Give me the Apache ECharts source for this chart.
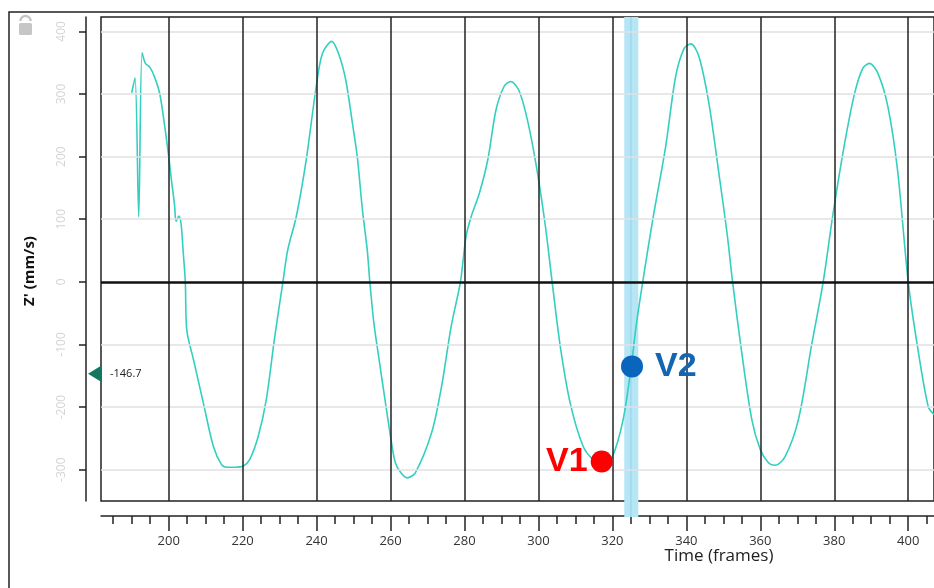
<!DOCTYPE html>
<html><head><meta charset="utf-8">
<script src="https://cdn.jsdelivr.net/npm/echarts@6/dist/echarts.min.js"></script>
<style>html,body{margin:0;padding:0;background:#fff}#c{width:934px;height:588px}</style>
</head><body><div id="c"></div>
<script>
const frames = [190.0,190.9,191.9,192.8,193.7,194.9,196.2,197.6,198.9,199.8,200.7,201.6,202.0,202.8,203.4,203.9,204.5,204.9,206.7,209.4,212.1,214.3,215.7,218.0,220.2,221.9,224.2,226.4,228.7,230.9,232.2,234.5,237.2,239.9,241.6,244.1,246.1,247.9,249.7,251.0,252.4,253.7,254.4,255.5,256.9,258.5,260.0,261.3,262.8,264.5,266.7,271.1,273.8,276.4,278.9,280.4,281.8,284.0,286.3,288.5,290.7,292.5,294.7,297.0,299.6,301.9,303.7,305.9,308.6,312.1,314.8,317.5,320.0,322.9,325.1,326.4,328.2,330.9,334.4,337.1,339.4,341.2,343.4,346.1,348.8,351.0,352.5,355.0,357.7,360.0,362.2,364.0,366.7,370.3,373.9,377.0,379.7,382.8,385.5,387.7,389.5,391.8,394.5,397.1,400.0,402.5,405.4,407.0];
const zVel = [302,326,104,366,349,343,327,300,250,210,165,122,97,105,90,50,0,-77,-124,-194,-263,-292,-296,-296,-294,-284,-247,-188,-87,0,51,104,195,312,365,384,362,322,253,200,115,51,0,-66,-124,-188,-247,-289,-305,-313,-305,-241,-167,-71,0,72,104,141,195,274,312,320,306,259,179,88,0,-103,-194,-263,-284,-292,-279,-220,-135,-71,0,99,216,328,373,380,360,285,173,78,0,-114,-220,-268,-289,-293,-279,-220,-100,0,110,221,301,341,349,333,280,179,0,-103,-199,-212];
const xMajorTicks = [200,220,240,260,280,300,320,340,360,380,400];
const xMinorTicks = [185,190,195,205,210,215,225,230,235,245,250,255,265,270,275,285,290,295,305,310,315,325,330,335,345,350,355,365,370,375,385,390,395,405];
const yTicks = [-300,-200,-100,0,100,200,300,400];
const v1Point = [317.1, -287];
const v2Point = [325.3, -135];
const cursorValue = -146.7;
const bandRange = [323.2, 327.0];
const bandCenter = 325;
const xName = 'Time (frames)';
const yName = "Z' (mm/s)";

const X_MIN = 181.7, X_MAX = 406.97, Y_MIN = -350, Y_MAX = 423;
const chart = echarts.init(document.getElementById('c'), null, {renderer: 'canvas'});
const gridBox = {left: 101, top: 17, width: 838, height: 484};
const font = 'Open Sans';

const option = {
  animation: false,
  backgroundColor: '#fff',
  grid: [
    Object.assign({show: true, borderColor: '#222', borderWidth: 1.5, backgroundColor: 'transparent'}, gridBox),
    Object.assign({show: false}, gridBox)
  ],
  xAxis: [
    {type: 'value', gridIndex: 0, min: X_MIN, max: X_MAX, position: 'bottom', offset: 15,
     axisLine: {show: true, onZero: false, lineStyle: {color: '#222', width: 1.5}},
     axisTick: {show: true, customValues: xMajorTicks, length: 15, lineStyle: {color: '#222', width: 1.5}},
     axisLabel: {show: true, customValues: xMajorTicks, margin: 19, color: '#333', fontSize: 13, fontFamily: font},
     splitLine: {show: false}},
    {type: 'value', gridIndex: 1, min: X_MIN, max: X_MAX, position: 'bottom', offset: 15,
     axisLine: {show: false, onZero: false},
     axisTick: {show: true, customValues: xMinorTicks, length: 8, lineStyle: {color: '#222', width: 1.5}},
     axisLabel: {show: false}, splitLine: {show: false}}
  ],
  yAxis: [
    {type: 'value', gridIndex: 0, min: Y_MIN, max: Y_MAX, position: 'left', offset: 15,
     axisLine: {show: true, onZero: false, lineStyle: {color: '#222', width: 1.5}},
     axisTick: {show: true, customValues: yTicks, length: 7, lineStyle: {color: '#222', width: 1.5}},
     axisLabel: {show: true, customValues: yTicks, rotate: 90, margin: 18, color: '#d4d4d4', fontSize: 12, fontFamily: font},
     splitLine: {show: false}},
    {type: 'value', gridIndex: 1, min: Y_MIN, max: Y_MAX, show: false}
  ],
  series: [
    {type: 'line', name: 'gridlines', xAxisIndex: 0, yAxisIndex: 0, data: [], z: 1, silent: true,
     markLine: {symbol: ['none', 'none'], silent: true, animation: false, label: {show: false},
       data: [].concat(
         yTicks.filter(v => v !== 0).map(v => ({yAxis: v, lineStyle: {color: '#e0e0e0', width: 1.5, type: 'solid'}})),
         xMajorTicks.map(v => ({xAxis: v, lineStyle: {color: '#222', width: 1.5, type: 'solid'}})),
         [{yAxis: 0, lineStyle: {color: '#111', width: 2.5, type: 'solid'}}]
       )}},
    {type: 'line', name: "Z'", xAxisIndex: 0, yAxisIndex: 0, z: 3,
     data: frames.map((f, i) => [f, zVel[i]]), showSymbol: false, symbol: 'none', smooth: 0.3,
     lineStyle: {color: '#33cfc0', width: 1.6}},
    {type: 'scatter', name: 'V1', z: 10, data: [v1Point], symbolSize: 22, itemStyle: {color: '#ff0000', opacity: 1},
     label: {show: true, formatter: 'V1', position: 'left', distance: 3, color: '#ff0000', fontSize: 34, fontWeight: 'bold', fontFamily: 'Liberation Sans'}},
    {type: 'scatter', name: 'V2', z: 10, data: [v2Point], symbolSize: 22, itemStyle: {color: '#0a66bd', opacity: 1},
     label: {show: true, formatter: 'V2', position: 'right', distance: 12, color: '#1466b3', fontSize: 34, fontWeight: 'bold', fontFamily: 'Liberation Sans'}}
  ]
};
chart.setOption(option);

const px = v => chart.convertToPixel({xAxisIndex: 0}, v);
const py = v => chart.convertToPixel({yAxisIndex: 0}, v);
const bx0 = px(bandRange[0]), bx1 = px(bandRange[1]), bc = px(bandCenter);
const gTop = py(Y_MAX), gBot = py(Y_MIN), gLeft = px(X_MIN);
const cy = py(cursorValue);

chart.setOption({
  graphic: [
    {type: 'rect', z: 0, shape: {x: 9, y: 12, width: 1000, height: 1000}, style: {fill: null, stroke: '#222', lineWidth: 1.5}},
    {type: 'rect', z: 0, shape: {x: 19, y: 23, width: 13, height: 12, r: 1.5}, style: {fill: '#c6c6c6'}},
    {type: 'arc', z: 0, shape: {cx: 25.5, cy: 21, r: 5, startAngle: Math.PI, endAngle: 2 * Math.PI}, style: {stroke: '#c6c6c6', lineWidth: 2.5, fill: null}},
    {type: 'rect', z: 2, shape: {x: bx0, y: gTop, width: bx1 - bx0, height: gBot - gTop + 16}, style: {fill: '#b6e5f5'}},
    {type: 'line', z: 2, shape: {x1: bc, y1: gTop, x2: bc, y2: gBot + 16}, style: {stroke: '#98d4ea', lineWidth: 1.2}},
    {type: 'polygon', z: 5, shape: {points: [[gLeft - 13, cy], [gLeft, cy - 8], [gLeft, cy + 8]]}, style: {fill: '#11775f'}},
    {type: 'text', z: 5, x: gLeft + 9, y: cy, style: {text: cursorValue.toFixed(1), fill: '#222', font: '11px "Open Sans"', verticalAlign: 'middle', align: 'left'}},
    {type: 'text', z: 5, x: 30, y: 271, rotation: Math.PI / 2, style: {text: yName, fill: '#111', font: 'bold 15px "Open Sans"', align: 'center', verticalAlign: 'middle'}},
    {type: 'text', z: 5, x: 719, y: 556, style: {text: xName, fill: '#222', font: '17px "Open Sans"', align: 'center', verticalAlign: 'middle'}}
  ]
});
</script></body></html>
